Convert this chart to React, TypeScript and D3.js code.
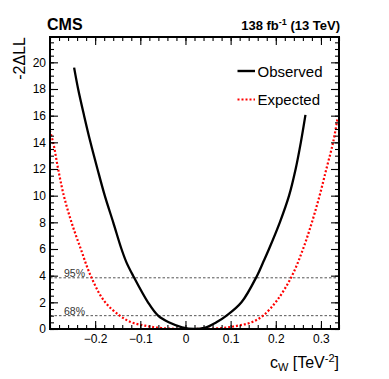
import React, { useRef, useEffect } from 'react';
import * as d3 from 'd3';

// -2ΔLL scan vs c_W
const obsX = [-0.2466, -0.2377, -0.2245, -0.2104, -0.1949, -0.1787, -0.16, -0.1417, -0.1307, -0.116, -0.083, -0.0606, -0.037, -0.0075, 0.0195, 0.046, 0.0686, 0.091, 0.124, 0.1586, 0.172, 0.185, 0.209, 0.2294, 0.244, 0.2555, 0.2657];
const obsY = [19.6, 18, 16, 14, 12, 10, 8, 6, 5, 4, 2, 1, 0.5, 0.13, 0, 0.13, 0.5, 1, 2, 4, 5, 6, 8, 10, 12, 14, 16.06];
const expX = [-0.3004, -0.293, -0.282, -0.2694, -0.2524, -0.2318, -0.21, -0.18, -0.1455, -0.1196, -0.09, -0.053, 0.015, 0.08, 0.1165, 0.146, 0.172, 0.204, 0.236, 0.2604, 0.28, 0.297, 0.312, 0.327, 0.3365];
const expY = [14.88, 14, 12, 10, 8, 6, 4, 2.1, 1, 0.5, 0.25, 0.07, 0, 0.07, 0.25, 0.5, 1, 2.2, 4, 6, 8, 10, 12, 14, 15.76];
const xTicks = [-0.2, -0.1, 0, 0.1, 0.2, 0.3];
const yTicks = [0, 2, 4, 6, 8, 10, 12, 14, 16, 18, 20];
const clLevels = [3.84, 1];
const clLabels = ['95%', '68%'];

const FONT = "'Liberation Sans', Arial, Helvetica, sans-serif";

const App = () => {
  const svgRef = useRef<SVGSVGElement>(null);

  useEffect(() => {
    const svg = d3.select(svgRef.current);
    svg.selectAll('*').remove();

    const width = 389;
    const height = 379;
    const margin = { top: 37, bottom: 50, left: 50, right: 50 };
    const x0 = margin.left, x1 = width - margin.right;
    const y0 = margin.top, y1 = height - margin.bottom;

    const xScale = d3.scaleLinear().domain([-0.3, 0.34]).range([x0, x1]);
    const yScale = d3.scaleLinear().domain([0, 21.9]).range([y1, y0]);

    svg.append('rect').attr('width', width).attr('height', height).attr('fill', '#fff');

    svg.append('clipPath').attr('id', 'plotclip')
      .append('rect').attr('x', x0).attr('y', y0).attr('width', x1 - x0).attr('height', y1 - y0);

    // confidence level lines
    clLevels.forEach((v, i) => {
      svg.append('line')
        .attr('x1', x0).attr('x2', x1)
        .attr('y1', yScale(v)).attr('y2', yScale(v))
        .attr('stroke', '#555').attr('stroke-width', 1).attr('stroke-dasharray', '2.5,2');
      svg.append('text')
        .attr('x', x0 + 14).attr('y', yScale(v) - 1)
        .style('font-family', FONT).style('font-size', '10.5px').attr('fill', '#333')
        .text(clLabels[i]);
    });

    const line = d3.line<[number, number]>()
      .x(d => xScale(d[0]))
      .y(d => yScale(d[1]))
      .curve(d3.curveCatmullRom.alpha(0.5));

    const plot = svg.append('g').attr('clip-path', 'url(#plotclip)');
    plot.append('path')
      .datum(expX.map((x, i) => [x, expY[i]] as [number, number]))
      .attr('d', line)
      .attr('fill', 'none').attr('stroke', '#ff0000').attr('stroke-width', 2.2)
      .attr('stroke-dasharray', '2,2');
    plot.append('path')
      .datum(obsX.map((x, i) => [x, obsY[i]] as [number, number]))
      .attr('d', line)
      .attr('fill', 'none').attr('stroke', '#000').attr('stroke-width', 2.3);

    // axes, ticks inside on all four sides
    const xMinor = d3.range(-0.3, 0.3401, 0.02);
    const yMinor = d3.range(0, 21.9, 0.5);

    const addAxis = (axis, tx, ty, labels) => {
      const g = svg.append('g').attr('transform', `translate(${tx},${ty})`).call(axis);
      g.select('.domain').remove();
      g.selectAll('line').attr('stroke', '#000').attr('stroke-width', 1.1);
      g.selectAll('text').style('font-family', FONT).style('font-size', '12px').attr('fill', '#000');
      if (!labels) g.selectAll('text').remove();
      return g;
    };

    addAxis(d3.axisBottom(xScale).tickValues(xMinor).tickSize(-4).tickFormat(() => ''), 0, y1, false);
    addAxis(d3.axisTop(xScale).tickValues(xMinor).tickSize(-4).tickFormat(() => ''), 0, y0, false);
    addAxis(d3.axisBottom(xScale).tickValues(xTicks).tickSize(-8).tickPadding(5)
      .tickFormat(d => (+d < 0 ? '\u2212' + Math.abs(+d) : String(d))), 0, y1, true);
    addAxis(d3.axisTop(xScale).tickValues(xTicks).tickSize(-8), 0, y0, false);

    addAxis(d3.axisLeft(yScale).tickValues(yMinor).tickSize(-4).tickFormat(() => ''), x0, 0, false);
    addAxis(d3.axisRight(yScale).tickValues(yMinor).tickSize(-4).tickFormat(() => ''), x1, 0, false);
    addAxis(d3.axisLeft(yScale).tickValues(yTicks).tickSize(-8).tickPadding(4), x0, 0, true);
    addAxis(d3.axisRight(yScale).tickValues(yTicks).tickSize(-8), x1, 0, false);

    svg.append('rect')
      .attr('x', x0).attr('y', y0).attr('width', x1 - x0).attr('height', y1 - y0)
      .attr('fill', 'none').attr('stroke', '#000').attr('stroke-width', 2);

    // legend
    svg.append('line').attr('x1', 237.5).attr('x2', 255).attr('y1', 71).attr('y2', 71)
      .attr('stroke', '#000').attr('stroke-width', 2.4);
    svg.append('text').attr('x', 257.5).attr('y', 76.5)
      .style('font-family', FONT).style('font-size', '15px').text('Observed');
    svg.append('line').attr('x1', 237.5).attr('x2', 255).attr('y1', 99.5).attr('y2', 99.5)
      .attr('stroke', '#ff0000').attr('stroke-width', 2.2).attr('stroke-dasharray', '2,2');
    svg.append('text').attr('x', 257.5).attr('y', 105)
      .style('font-family', FONT).style('font-size', '15px').text('Expected');

    // titles
    svg.append('text').attr('x', 47).attr('y', 30)
      .style('font-family', FONT).style('font-size', '16px').style('font-weight', 'bold').text('CMS');

    const lumi = svg.append('text').attr('x', 340).attr('y', 30).attr('text-anchor', 'end')
      .style('font-family', FONT).style('font-size', '13px').style('font-weight', 'bold');
    lumi.append('tspan').text('138 fb');
    lumi.append('tspan').attr('dy', -5).style('font-size', '9px').text('-1');
    lumi.append('tspan').attr('dy', 5).text(' (13 TeV)');

    svg.append('text')
      .attr('transform', `translate(24.5,${y0}) rotate(-90)`)
      .attr('text-anchor', 'end')
      .style('font-family', FONT).style('font-size', '16px')
      .text('-2\u0394LL');

    const xt = svg.append('text').attr('x', 339).attr('y', 368).attr('text-anchor', 'end')
      .style('font-family', FONT).style('font-size', '16px');
    xt.append('tspan').text('c');
    xt.append('tspan').attr('dy', 3).style('font-size', '11px').text('W');
    xt.append('tspan').attr('dy', -3).text(' [TeV');
    xt.append('tspan').attr('dy', -6).style('font-size', '11px').text('-2');
    xt.append('tspan').attr('dy', 6).text(']');
  }, []);

  return (
    <svg ref={svgRef} width={389} height={379}
      style={{ position: 'absolute', left: 0, top: 0, display: 'block' }} />
  );
};

export default App;
